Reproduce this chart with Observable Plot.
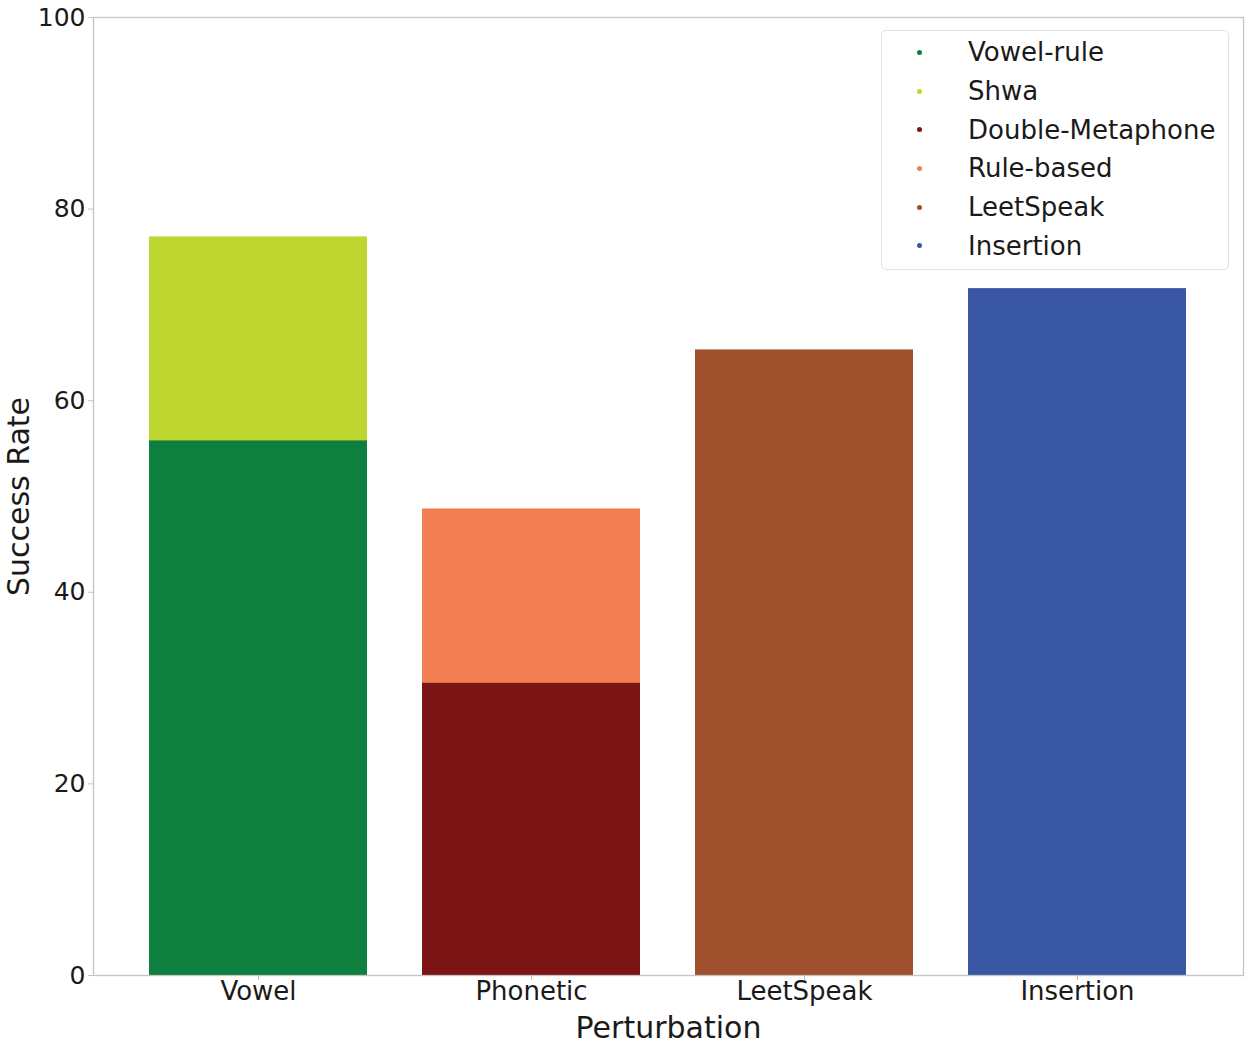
<!DOCTYPE html>
<html>
<head>
<meta charset="utf-8">
<script src="https://cdn.jsdelivr.net/npm/d3@7"></script>
<script src="https://cdn.jsdelivr.net/npm/@observablehq/plot@0.6"></script>
<style>
  html, body { margin: 0; padding: 0; background: #fff; }
  #wrap { position: relative; width: 1250px; height: 1047px; font-family: "DejaVu Sans", sans-serif; }
  #wrap svg { display: block; }
  g[aria-label="x-axis label"] text, g[aria-label="y-axis label"] text { font-size: 30px; }
  g[aria-label="x-axis tick label"] text { font-size: 26px; }
  #legend { position: absolute; left: 881px; top: 30px; width: 348px; height: 240px; box-sizing: border-box;
            border: 1px solid #e2e2e2; border-radius: 5px; background: #fff; padding-top: 2px; }
  .item { height: 38.7px; display: flex; align-items: center; font-size: 26px; color: #1a1a1a; }
  .dot { width: 5px; height: 5px; border-radius: 50%; margin-left: 35px; margin-right: 46px; }
</style>
</head>
<body>
<div id="wrap"></div>
<script>
const perturbations = ["Vowel", "Phonetic", "LeetSpeak", "Insertion"];
const methods = ["Vowel-rule", "Shwa", "Double-Metaphone", "Rule-based", "LeetSpeak", "Insertion"];
const methodGroup = ["Vowel", "Vowel", "Phonetic", "Phonetic", "LeetSpeak", "Insertion"];
const successRates = [55.8, 77.1, 30.5, 48.7, 65.3, 71.7];
const methodColors = ["#0e7f3e", "#bdd630", "#7c1416", "#f27f53", "#9e512c", "#3957a5"];
const yTicks = [0, 20, 40, 60, 80, 100];

// Bars within a group overlap (not stacked): taller drawn first, shorter on top
const data = methods.map((m, i) => ({method: m, group: methodGroup[i], value: successRates[i]}))
  .sort((a, b) => b.value - a.value);

const chart = Plot.plot({
  width: 1250,
  height: 1047,
  marginLeft: 93,
  marginRight: 7,
  marginTop: 17,
  marginBottom: 72,
  style: {fontFamily: "DejaVu Sans, sans-serif", fontSize: "25px", color: "#1a1a1a", background: "#fff"},
  x: {domain: perturbations, paddingInner: 0.2, paddingOuter: 0.2, label: "Perturbation"},
  y: {domain: [0, 100], label: "Success Rate"},
  color: {domain: methods, range: methodColors},
  marks: [
    Plot.barY(data, {x: "group", y1: 0, y2: "value", fill: "method"}),
    Plot.frame({stroke: "#c4c4c4", strokeWidth: 1.3}),
    Plot.axisX({tickSize: 5, tickPadding: 1, stroke: "#c4c4c4", fill: "#1a1a1a",
                label: "Perturbation", labelAnchor: "center", labelArrow: "none", labelOffset: 62}),
    Plot.axisY({ticks: yTicks, tickSize: 5, tickPadding: 3, stroke: "#c4c4c4", fill: "#1a1a1a",
                label: "Success Rate", labelAnchor: "center", labelArrow: "none", labelOffset: 86})
  ]
});
const wrap = document.getElementById("wrap");
wrap.appendChild(chart);

const legend = document.createElement("div");
legend.id = "legend";
methods.forEach((m, i) => {
  const it = document.createElement("div");
  it.className = "item";
  const d = document.createElement("span");
  d.className = "dot";
  d.style.background = methodColors[i];
  const t = document.createElement("span");
  t.textContent = m;
  it.appendChild(d); it.appendChild(t);
  legend.appendChild(it);
});
wrap.appendChild(legend);
</script>
</body>
</html>
